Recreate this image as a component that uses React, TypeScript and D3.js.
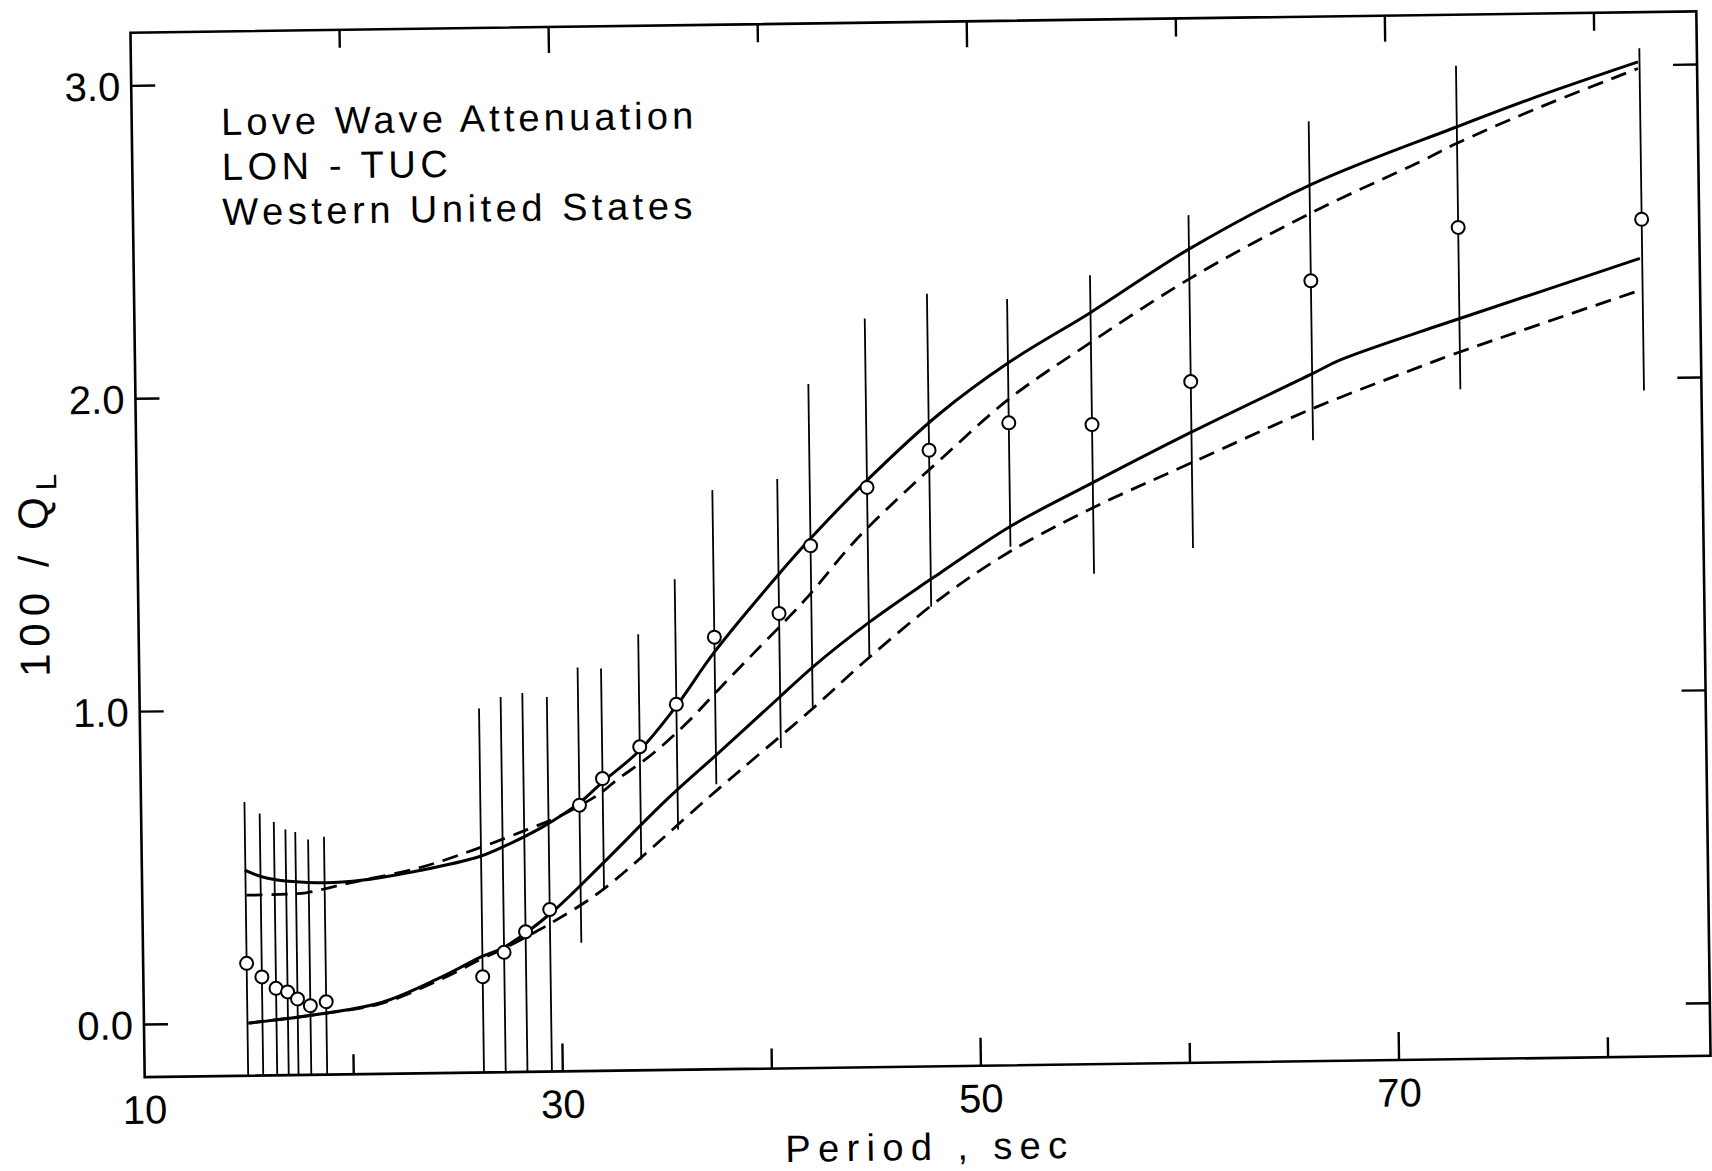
import React, { useEffect, useRef } from 'react';
import * as d3 from 'd3';

// Observed Love wave attenuation, LON - TUC (period in sec, 100/Q_L, error half-width)
const periods = [14.95, 15.67, 16.34, 16.89, 17.36, 17.97, 18.73, 26.23, 27.27, 28.31, 29.48, 30.97, 32.09,
  33.89, 35.67, 37.53, 40.64, 42.19, 44.93, 47.92, 51.75, 55.73, 60.48, 66.29, 73.37, 82.15];
const invQ = [0.191, 0.147, 0.110, 0.098, 0.075, 0.053, 0.065, 0.138, 0.215, 0.280, 0.350, 0.682, 0.766,
  0.866, 1.000, 1.213, 1.286, 1.501, 1.685, 1.801, 1.885, 1.876, 2.009, 2.326, 2.490, 2.508];
const invQErr = [0.516, 0.522, 0.532, 0.519, 0.534, 0.531, 0.527, 0.857, 0.816, 0.763, 0.679, 0.44, 0.352,
  0.36, 0.40, 0.47, 0.43, 0.517, 0.54, 0.50, 0.396, 0.477, 0.532, 0.51, 0.517, 0.547];

// Model curves
const upperSolidT = [14.92, 16.01, 18.75, 20.58, 23.34, 26.09, 27.38, 29.22, 30.98, 32.09, 33.89, 35.67, 37.52,
  40.61, 42.19, 44.94, 48.46, 51.84, 55.78, 60.52, 66.46, 73.35, 77.03, 82.08];
const upperSolidQ = [0.489, 0.462, 0.445, 0.452, 0.481, 0.521, 0.555, 0.615, 0.690, 0.755, 0.855, 0.995, 1.165,
  1.408, 1.524, 1.708, 1.918, 2.080, 2.236, 2.434, 2.636, 2.811, 2.900, 3.011];

const upperDashT = [14.99, 17.83, 19.12, 20.58, 23.34, 26.28, 28.48, 29.96, 31.95, 32.75, 34.52, 36.14, 37.75,
  39.37, 40.99, 42.12, 44.23, 46.48, 48.43, 51.81, 55.76, 60.50, 66.44, 71.57, 73.34, 77.03, 82.07];
const upperDashQ = [0.409, 0.414, 0.432, 0.452, 0.490, 0.553, 0.607, 0.646, 0.718, 0.760, 0.844, 0.939, 1.049,
  1.158, 1.266, 1.345, 1.508, 1.653, 1.769, 1.963, 2.140, 2.338, 2.546, 2.701, 2.758, 2.862, 2.990];

const lowerSolidT = [15.00, 18.67, 21.42, 24.17, 26.19, 27.29, 29.53, 31.89, 35.13, 37.55, 40.62, 42.23, 44.97,
  47.38, 48.34, 51.73, 55.66, 60.40, 66.33, 67.62, 71.46, 73.39, 82.04];
const lowerSolidQ = [0.0, 0.028, 0.061, 0.136, 0.202, 0.232, 0.338, 0.485, 0.695, 0.837, 1.019, 1.114, 1.255,
  1.365, 1.407, 1.553, 1.688, 1.845, 2.030, 2.071, 2.158, 2.199, 2.383];

const lowerDashT = [15.00, 18.67, 21.42, 24.17, 26.19, 27.29, 28.78, 29.52, 31.89, 37.20, 39.27, 42.19, 44.95,
  48.48, 51.71, 55.65, 60.38, 66.31, 71.44, 73.37, 82.01];
const lowerDashQ = [0.0, 0.028, 0.058, 0.13, 0.195, 0.228, 0.279, 0.306, 0.404, 0.704, 0.819, 0.981, 1.143,
  1.332, 1.473, 1.608, 1.747, 1.918, 2.046, 2.092, 2.281];

const yTicks = [0, 1, 2, 3];
const xMajorTicks = [30, 50, 70];
const xMinorTicks = [20, 40, 60, 80];
const xLabels = [10, 30, 50, 70];

const titleLines = ['Love Wave Attenuation', 'LON - TUC', 'Western United States'];
const titleWidths = [472, 226, 470];

const FONT = '"Liberation Sans", Arial, sans-serif';

const App = () => {
  const ref = useRef<SVGSVGElement>(null);

  useEffect(() => {
    const svg = d3.select(ref.current);
    svg.selectAll('*').remove();

    const width = 1712;
    const height = 1171;
    const margin = { top: 22, right: 8.5, bottom: 104.5, left: 137.5 };
    const x0 = margin.left;
    const x1 = width - margin.right;
    const y0 = margin.top;
    const y1 = height - margin.bottom;

    svg.attr('width', width).attr('height', height);

    const x = d3.scaleLinear().domain([10, 84.9]).range([x0, x1]);
    const y = d3.scaleLinear().domain([-0.168, 3.17]).range([y1, y0]);

    // the scanned figure sits slightly tilted
    const g = svg.append('g').attr('transform', 'rotate(-0.78, 920, 544)');

    g.append('clipPath').attr('id', 'plot-clip')
      .append('rect')
      .attr('x', x0).attr('y', y0)
      .attr('width', x1 - x0).attr('height', y1 - y0);

    const plot = g.append('g').attr('clip-path', 'url(#plot-clip)');

    // Curves
    const line = d3.line<[number, number]>()
      .x(d => x(d[0]))
      .y(d => y(d[1]))
      .curve(d3.curveCatmullRom.alpha(0.5));

    const curves = [
      { t: upperSolidT, q: upperSolidQ, dash: null, w: 3 },
      { t: upperDashT, q: upperDashQ, dash: '16 9', w: 2.8 },
      { t: lowerSolidT, q: lowerSolidQ, dash: null, w: 3 },
      { t: lowerDashT, q: lowerDashQ, dash: '16 9', w: 2.8 },
    ];

    curves.forEach(c => {
      plot.append('path')
        .datum(d3.zip(c.t, c.q) as [number, number][])
        .attr('fill', 'none')
        .attr('stroke', '#000')
        .attr('stroke-width', c.w)
        .attr('stroke-dasharray', c.dash)
        .attr('d', line);
    });

    // Error bars
    const obs = periods.map((p, i) => ({ p, v: invQ[i], e: invQErr[i] }));

    plot.selectAll('line.err')
      .data(obs)
      .enter()
      .append('line')
      .attr('class', 'err')
      .attr('x1', d => x(d.p))
      .attr('x2', d => x(d.p))
      .attr('y1', d => y(d.v - d.e))
      .attr('y2', d => y(d.v + d.e))
      .attr('stroke', '#000')
      .attr('stroke-width', 1.8);

    plot.selectAll('circle')
      .data(obs)
      .enter()
      .append('circle')
      .attr('cx', d => x(d.p))
      .attr('cy', d => y(d.v))
      .attr('r', 6.5)
      .attr('fill', '#fff')
      .attr('stroke', '#000')
      .attr('stroke-width', 2);

    // Frame
    g.append('rect')
      .attr('x', x0).attr('y', y0)
      .attr('width', x1 - x0).attr('height', y1 - y0)
      .attr('fill', 'none')
      .attr('stroke', '#000')
      .attr('stroke-width', 2.6);

    // Ticks
    const ticks = g.append('g').attr('stroke', '#000').attr('stroke-width', 2.4);
    yTicks.forEach(t => {
      ticks.append('line').attr('x1', x0).attr('x2', x0 + 24).attr('y1', y(t)).attr('y2', y(t));
      ticks.append('line').attr('x1', x1).attr('x2', x1 - 24).attr('y1', y(t)).attr('y2', y(t));
    });
    xMajorTicks.forEach(t => {
      ticks.append('line').attr('x1', x(t)).attr('x2', x(t)).attr('y1', y1).attr('y2', y1 - 28);
      ticks.append('line').attr('x1', x(t)).attr('x2', x(t)).attr('y1', y0).attr('y2', y0 + 26);
    });
    xMinorTicks.forEach(t => {
      ticks.append('line').attr('x1', x(t)).attr('x2', x(t)).attr('y1', y1).attr('y2', y1 - 20);
      ticks.append('line').attr('x1', x(t)).attr('x2', x(t)).attr('y1', y0).attr('y2', y0 + 18);
    });

    // Tick labels
    g.selectAll('text.ylab')
      .data(yTicks)
      .enter()
      .append('text')
      .attr('class', 'ylab')
      .attr('x', x0 - 11)
      .attr('y', d => y(d) + 14.5)
      .attr('text-anchor', 'end')
      .attr('font-family', FONT)
      .attr('font-size', 40)
      .text(d => d3.format('.1f')(d));

    g.selectAll('text.xlab')
      .data(xLabels)
      .enter()
      .append('text')
      .attr('class', 'xlab')
      .attr('x', d => x(d))
      .attr('y', y1 + 46.5)
      .attr('text-anchor', 'middle')
      .attr('font-family', FONT)
      .attr('font-size', 40)
      .text(d => String(d));

    // Axis labels
    g.append('text')
      .attr('x', 918)
      .attr('y', 1160)
      .attr('text-anchor', 'middle')
      .attr('font-family', FONT)
      .attr('font-size', 38)
      .attr('textLength', 282)
      .attr('lengthAdjust', 'spacing')
      .text('Period , sec');

    const yl = g.append('text')
      .attr('transform', 'translate(48, 560) rotate(-90)')
      .attr('text-anchor', 'middle')
      .attr('font-family', FONT)
      .attr('font-size', 42)
      .attr('letter-spacing', 7);
    yl.append('tspan').text('100 / Q');
    yl.append('tspan').attr('dy', 9).attr('font-size', 29).text('L');

    // Title block
    titleLines.forEach((s, i) => {
      g.append('text')
        .attr('x', 227)
        .attr('y', 125.5 + i * 45)
        .attr('font-family', FONT)
        .attr('font-size', 38)
        .attr('textLength', titleWidths[i])
        .attr('lengthAdjust', 'spacing')
        .text(s);
    });
  }, []);

  return (
    <svg
      ref={ref}
      style={{ position: 'absolute', left: 0, top: 0, background: '#fff' }}
    ></svg>
  );
};

export default App;
